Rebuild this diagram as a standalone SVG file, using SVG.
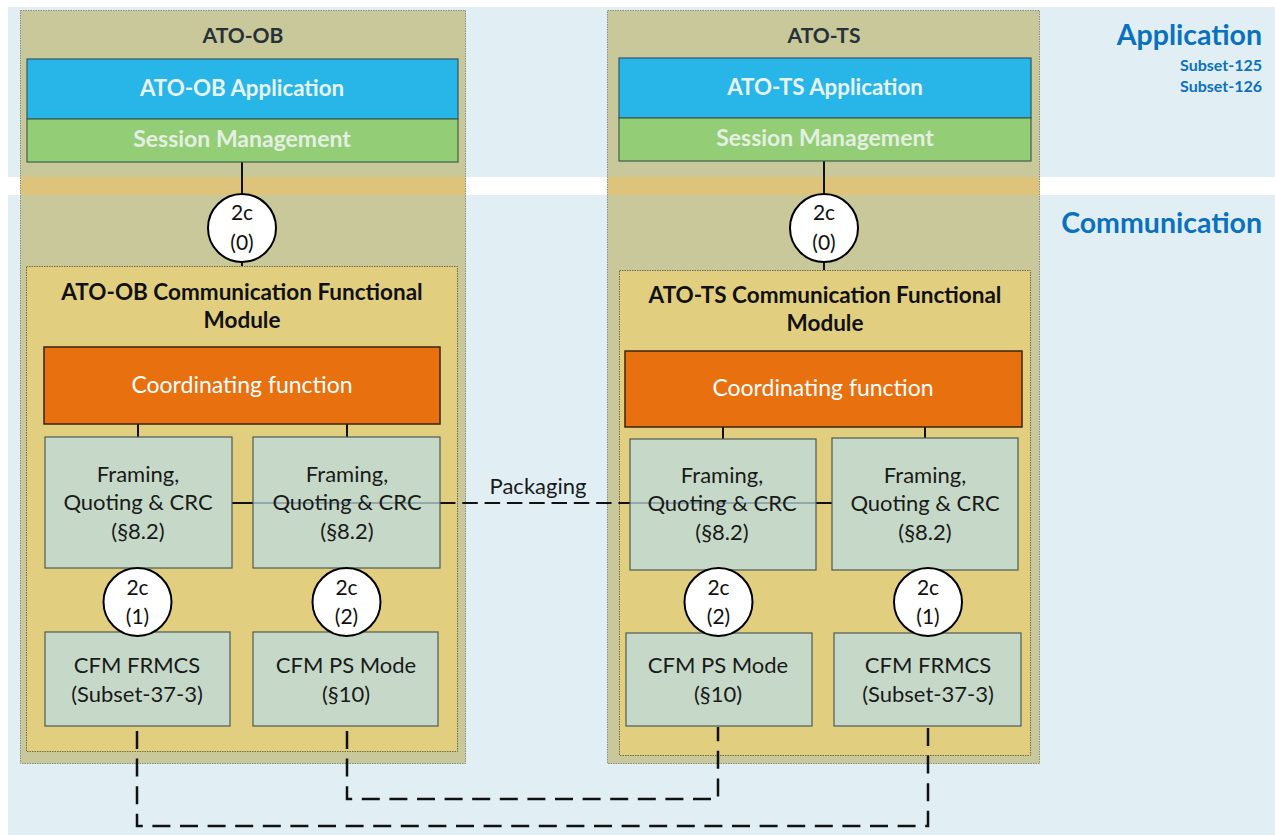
<svg xmlns="http://www.w3.org/2000/svg" width="1275" height="835" viewBox="0 0 1275 835">
  <style>
    text { font-family: Lato, "Liberation Sans", sans-serif; }
    .band { fill: #e1eff5; }
    .container { fill: #c9c89b; stroke: #8c8c7c; stroke-width: 1; stroke-dasharray: 1.5 1; }
    .gap { fill: #ddc47a; }
    .module { fill: #e1cf7f; stroke: #6f6a4a; stroke-width: 1; stroke-dasharray: 1.5 1; }
    .app { fill: #28b6e9; stroke: #2f5566; stroke-width: 1.2; }
    .session { fill: #93cd76; stroke: #3f5f4a; stroke-width: 1.2; }
    .coord { fill: #e8700f; stroke: #3a2410; stroke-width: 1.5; }
    .fn { fill: #bcdce0; fill-opacity: 0.75; stroke: #4e5a55; stroke-width: 1.2; }
    .iface { fill: #ffffff; stroke: #000000; stroke-width: 2; }
    .link { fill: none; stroke: #111111; stroke-width: 2; }
    .pkg { fill: none; stroke: #111111; stroke-width: 2.2; stroke-dasharray: 15.5 6.8; }
    .radio { fill: none; stroke: #111111; stroke-width: 2.5; stroke-dasharray: 18 9.6; }
    .sys { font-size: 21px; font-weight: 700; fill: #263238; text-anchor: middle; }
    .apptxt { font-size: 22.3px; font-weight: 700; fill: #e8f4f4; text-anchor: middle; }
    .sestxt { font-size: 23px; font-weight: 700; fill: #e4efe2; text-anchor: middle; }
    .modtxt { font-size: 22.5px; font-weight: 700; fill: #111111; text-anchor: middle; }
    .coordtxt { font-size: 23px; fill: #ffffff; text-anchor: middle; }
    .fntxt { font-size: 22px; fill: #1a1a1a; text-anchor: middle; }
    .iftxt { font-size: 21px; fill: #111111; text-anchor: middle; }
    .layer { font-size: 28.5px; font-weight: 700; fill: #0a70c0; text-anchor: end; }
    .subset { font-size: 16px; font-weight: 700; fill: #0a70c0; text-anchor: end; }
  </style>

  <!-- layer bands -->
  <g id="bands">
    <rect class="band" x="8" y="7" width="1267" height="170"/>
    <rect class="band" x="8" y="195" width="1267" height="640"/>
    <text class="layer" x="1262" y="45">Application</text>
    <text class="subset" x="1262" y="71">Subset-125</text>
    <text class="subset" x="1262" y="92">Subset-126</text>
    <text class="layer" x="1262" y="233">Communication</text>
  </g>

  <!-- system containers -->
  <g id="ato-ob">
    <rect class="container" x="20.5" y="10.5" width="445" height="753"/>
    <rect class="gap" x="21" y="177" width="444" height="18"/>
    <text class="sys" x="243" y="43">ATO-OB</text>
  </g>
  <g id="ato-ts">
    <rect class="container" x="607.5" y="10.5" width="432" height="753"/>
    <rect class="gap" x="608" y="177" width="431" height="18"/>
    <text class="sys" x="824" y="43">ATO-TS</text>
  </g>

  <g id="ato-ob-cfm">
    <rect class="module" x="26.5" y="266.5" width="431" height="485"/>
    <text class="modtxt" x="242" y="300">ATO-OB Communication Functional</text>
    <text class="modtxt" x="242" y="328">Module</text>
  </g>
  <g id="ato-ts-cfm">
    <rect class="module" x="619.5" y="270.5" width="411" height="485"/>
    <text class="modtxt" x="825" y="303">ATO-TS Communication Functional</text>
    <text class="modtxt" x="825" y="331">Module</text>
  </g>

  <!-- connectors -->
  <g id="connectors">
    <path class="link" d="M242 162 V266"/>
    <path class="link" d="M824 161 V270"/>
    <path class="link" d="M138 424 V437 M347 424 V437"/>
    <path class="link" d="M723 427 V439 M925 427 V438"/>
    <path class="link" d="M232 503 H440 M629 503 H832"/>
    <path class="pkg" d="M440 503 H629"/>
    <path class="radio" d="M137 731 V826 H928 V727"/>
    <path class="radio" d="M347 731 V799 H718 V727"/>
    <text class="fntxt" x="538" y="494">Packaging</text>
  </g>

  <!-- ATO-OB application stack -->
  <g id="ato-ob-app">
    <rect class="app" x="27" y="59" width="431" height="60"/>
    <text class="apptxt" x="242" y="96">ATO-OB Application</text>
  </g>
  <g id="ato-ob-session">
    <rect class="session" x="27" y="119" width="431" height="43"/>
    <text class="sestxt" x="242" y="147">Session Management</text>
  </g>

  <!-- ATO-TS application stack -->
  <g id="ato-ts-app">
    <rect class="app" x="619" y="58" width="412" height="60"/>
    <text class="apptxt" x="825" y="95">ATO-TS Application</text>
  </g>
  <g id="ato-ts-session">
    <rect class="session" x="619" y="118" width="412" height="43"/>
    <text class="sestxt" x="825" y="146">Session Management</text>
  </g>

  <!-- ATO-OB functional module content -->
  <g id="ob-coord">
    <rect class="coord" x="44" y="347" width="396" height="77"/>
    <text class="coordtxt" x="242" y="393">Coordinating function</text>
  </g>
  <g id="ob-fqc-1">
    <rect class="fn" x="45" y="437" width="187" height="131"/>
    <text class="fntxt" x="138" y="482">Framing,</text>
    <text class="fntxt" x="138" y="510">Quoting &amp; CRC</text>
    <text class="fntxt" x="138" y="539">(§8.2)</text>
  </g>
  <g id="ob-fqc-2">
    <rect class="fn" x="253" y="437" width="187" height="131"/>
    <text class="fntxt" x="347" y="482">Framing,</text>
    <text class="fntxt" x="347" y="510">Quoting &amp; CRC</text>
    <text class="fntxt" x="347" y="539">(§8.2)</text>
  </g>
  <g id="ob-cfm-frmcs">
    <rect class="fn" x="45" y="632" width="185" height="94"/>
    <text class="fntxt" x="137" y="673">CFM FRMCS</text>
    <text class="fntxt" x="137" y="702">(Subset-37-3)</text>
  </g>
  <g id="ob-cfm-ps">
    <rect class="fn" x="253" y="632" width="185" height="94"/>
    <text class="fntxt" x="346" y="673">CFM PS Mode</text>
    <text class="fntxt" x="346" y="702">(§10)</text>
  </g>

  <!-- ATO-TS functional module content -->
  <g id="ts-coord">
    <rect class="coord" x="625" y="351" width="397" height="76"/>
    <text class="coordtxt" x="823" y="396">Coordinating function</text>
  </g>
  <g id="ts-fqc-1">
    <rect class="fn" x="630" y="439" width="186" height="131"/>
    <text class="fntxt" x="722" y="483">Framing,</text>
    <text class="fntxt" x="722" y="511">Quoting &amp; CRC</text>
    <text class="fntxt" x="722" y="540">(§8.2)</text>
  </g>
  <g id="ts-fqc-2">
    <rect class="fn" x="832" y="438" width="186" height="132"/>
    <text class="fntxt" x="925" y="483">Framing,</text>
    <text class="fntxt" x="925" y="511">Quoting &amp; CRC</text>
    <text class="fntxt" x="925" y="540">(§8.2)</text>
  </g>
  <g id="ts-cfm-ps">
    <rect class="fn" x="626" y="633" width="186" height="93"/>
    <text class="fntxt" x="718" y="673">CFM PS Mode</text>
    <text class="fntxt" x="718" y="702">(§10)</text>
  </g>
  <g id="ts-cfm-frmcs">
    <rect class="fn" x="834" y="633" width="187" height="93"/>
    <text class="fntxt" x="928" y="673">CFM FRMCS</text>
    <text class="fntxt" x="928" y="702">(Subset-37-3)</text>
  </g>

  <!-- interface points -->
  <g id="if-ob-0">
    <circle class="iface" cx="242" cy="228" r="34"/>
    <text class="iftxt" x="242" y="220">2c</text>
    <text class="iftxt" x="242" y="250">(0)</text>
  </g>
  <g id="if-ts-0">
    <circle class="iface" cx="824" cy="228" r="34"/>
    <text class="iftxt" x="824" y="220">2c</text>
    <text class="iftxt" x="824" y="250">(0)</text>
  </g>
  <g id="if-ob-1">
    <circle class="iface" cx="137.5" cy="602" r="34"/>
    <text class="iftxt" x="137.5" y="595">2c</text>
    <text class="iftxt" x="137.5" y="624">(1)</text>
  </g>
  <g id="if-ob-2">
    <circle class="iface" cx="346.5" cy="602" r="34"/>
    <text class="iftxt" x="346.5" y="595">2c</text>
    <text class="iftxt" x="346.5" y="624">(2)</text>
  </g>
  <g id="if-ts-2">
    <circle class="iface" cx="718.5" cy="602" r="34"/>
    <text class="iftxt" x="718.5" y="595">2c</text>
    <text class="iftxt" x="718.5" y="624">(2)</text>
  </g>
  <g id="if-ts-1">
    <circle class="iface" cx="928" cy="602" r="34"/>
    <text class="iftxt" x="928" y="595">2c</text>
    <text class="iftxt" x="928" y="624">(1)</text>
  </g>
</svg>
